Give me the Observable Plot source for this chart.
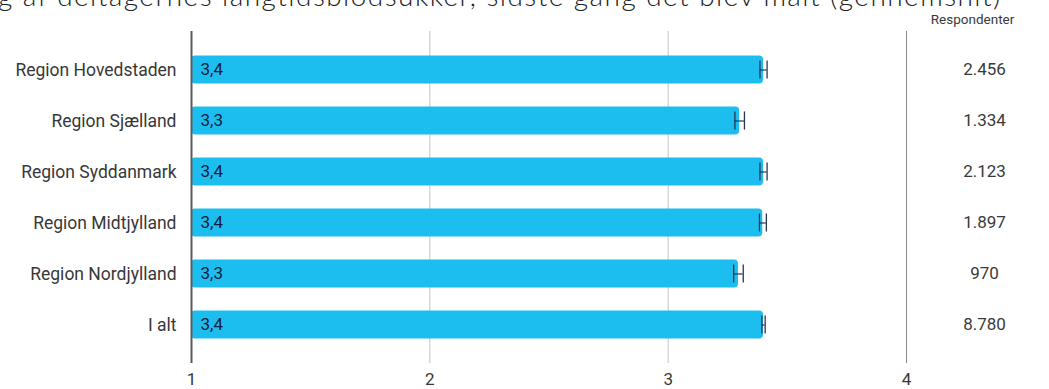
<!DOCTYPE html>
<html>
<head>
<meta charset="utf-8">
<script src="https://cdn.jsdelivr.net/npm/d3@7"></script>
<script src="https://cdn.jsdelivr.net/npm/@observablehq/plot@0.6"></script>
<style>
  html, body { margin: 0; padding: 0; background: #fff; overflow: hidden; }
  #wrap { position: relative; width: 1049px; height: 389px; overflow: hidden; }
  #title { position: absolute; left: -2px; top: -19px; white-space: nowrap;
           font-family: Lato, "Open Sans", sans-serif; font-weight: 300; font-size: 28px;
           line-height: 28px; color: #222; letter-spacing: 1.45px; }
  #chart { position: absolute; left: 0; top: 0; }
</style>
</head>
<body>
<div id="wrap">
  <div id="chart"></div>
  <div id="title">g af deltagernes langtidsblodsukker, sidste gang det blev målt (gennemsnit)</div>
</div>
<script>
const regions = ["Region Hovedstaden", "Region Sjælland", "Region Syddanmark", "Region Midtjylland", "Region Nordjylland", "I alt"];
const means = [3.40, 3.30, 3.40, 3.397, 3.295, 3.40];
const ciLow = [3.385, 3.28, 3.385, 3.383, 3.275, 3.393];
const ciHigh = [3.415, 3.32, 3.415, 3.412, 3.315, 3.407];
const respondents = [2456, 1334, 2123, 1897, 970, 8780];
const xTicks = [1, 2, 3, 4];
const columnHeader = "Respondenter";

const data = regions.map((r, i) => ({region: r, mean: means[i], lo: ciLow[i], hi: ciHigh[i], n: respondents[i]}));
const fmtComma = v => d3.format(".1f")(v).replace(".", ",");
const fmtThousands = v => d3.format(",")(v).replace(/,/g, ".");
const font = "Roboto, sans-serif";

const chart = Plot.plot({
  width: 1049,
  height: 389,
  marginLeft: 191,
  marginRight: 143,
  marginTop: 31,
  marginBottom: 26,
  style: {fontFamily: font, background: "transparent"},
  x: {domain: [1, 4]},
  y: {domain: regions, paddingInner: 0.45, paddingOuter: 0.48, round: false, label: null},
  marks: [
    Plot.ruleX([2, 3], {stroke: "#c4c4c4", strokeWidth: 1}),
    Plot.ruleX([4], {stroke: "#8a8a8a", strokeWidth: 1}),
    Plot.barX(data, {y: "region", x1: () => 1, x2: "mean", fill: "#1cbef0", rx: 4}),
    Plot.ruleX([1], {stroke: "#5a5a5a", strokeWidth: 2}),
    Plot.ruleY(data, {y: "region", x1: "lo", x2: "hi", stroke: "#2a3550", strokeWidth: 1.2}),
    Plot.tickX(data, {y: "region", x: "lo", stroke: "#2a3550", strokeWidth: 1.3, insetTop: 5, insetBottom: 5}),
    Plot.tickX(data, {y: "region", x: "hi", stroke: "#2a3550", strokeWidth: 1.3, insetTop: 5, insetBottom: 5}),
    Plot.text(data, {y: "region", text: d => fmtComma(d.mean), frameAnchor: "left", dx: 9, textAnchor: "start", fill: "#14213d", fontSize: 17}),
    Plot.text(data, {y: "region", text: d => fmtThousands(d.n), frameAnchor: "right", dx: 78, textAnchor: "middle", fill: "#3a3a3a", fontSize: 17}),
    Plot.text([columnHeader], {text: d => d, frameAnchor: "top-right", dx: 66, dy: -17, textAnchor: "middle", fill: "#3a3a3a", fontSize: 13.5}),
    Plot.axisY({tickSize: 0, tickPadding: 15, fontSize: 17.5, color: "#383838", label: null}),
    Plot.axisX({ticks: xTicks, tickSize: 0, tickPadding: 9, fontSize: 17, color: "#383838", label: null, tickFormat: d => String(d)})
  ]
});
document.getElementById("chart").appendChild(chart);
</script>
</body>
</html>
